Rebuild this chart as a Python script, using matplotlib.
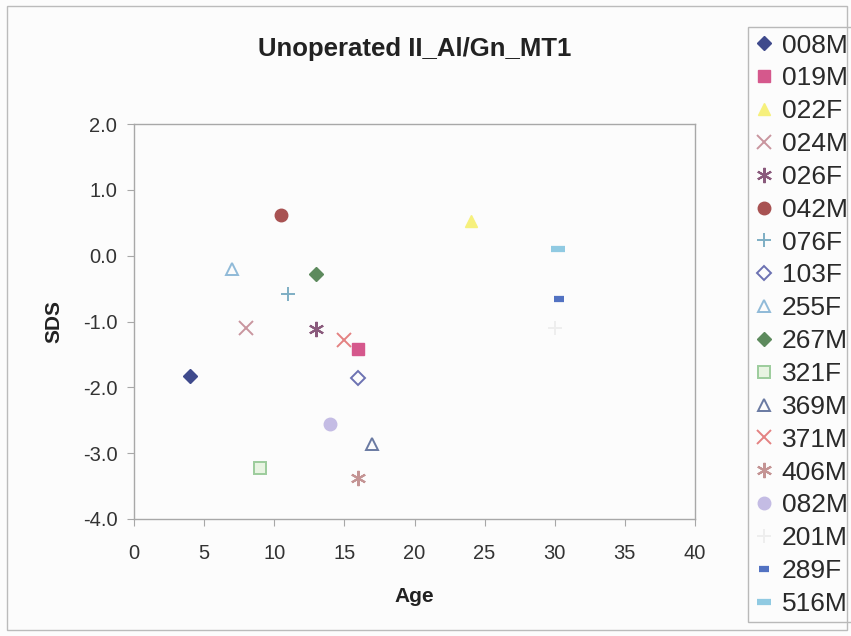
import matplotlib
matplotlib.use("Agg")
import matplotlib.pyplot as plt
from matplotlib.patches import Rectangle

plt.rcParams['font.family'] = ['Liberation Sans', 'DejaVu Sans']

# data
names = ['008M', '019M', '022F', '024M', '026F', '042M', '076F', '103F', '255F',
         '267M', '321F', '369M', '371M', '406M', '082M', '201M', '289F', '516M']
age = [4, 16, 24, 8, 13, 10.5, 11, 16, 7, 13, 9, 17, 15, 16, 14, 30, 30.3, 30.2]
sds = [-1.83, -1.42, 0.52, -1.1, -1.12, 0.62, -0.58, -1.86, -0.2,
       -0.28, -3.22, -2.86, -1.28, -3.38, -2.56, -1.1, -0.66, 0.1]

# marker styles (marker, colour, filled)
styles = [
    ('D', '#3f4a8c', True),
    ('s', '#d5588c', True),
    ('^', '#f6f07c', True),
    ('x', '#c9959e', True),
    ('star', '#8a5a7c', True),
    ('o', '#a85252', True),
    ('+', '#7eaec4', True),
    ('D', '#6c72b2', False),
    ('^', '#90bad8', False),
    ('D', '#5d8a5d', True),
    ('s', '#9ccc9c', False),
    ('^', '#6a7aa2', False),
    ('x', '#e48282', True),
    ('star', '#c49494', True),
    ('o', '#c4bce4', True),
    ('+', '#eeeeee', True),
    ('_', '#5272c2', True),
    ('_', '#90cae2', True),
]

fig = plt.figure(figsize=(8.51, 6.36), dpi=100, facecolor='#fcfcfc')
ax = fig.add_axes([134 / 851, 1 - 519 / 636, 561 / 851, 395 / 636])
ax.set_facecolor('#fcfcfc')

handles = []
for i in range(len(names)):
    mk, col, filled = styles[i]
    kw = dict(linestyle='none', color=col, markersize=9)
    if mk == 'star':
        mk = (6, 2, 0)
        kw.update(mew=1.5, markersize=11)
    elif mk in ('x', '+'):
        kw.update(mew=1.4, markersize=10)
    elif mk == '_':
        kw.update(mew=4.5, markersize=7 if i == 16 else 10)
    elif mk == 'D':
        kw.update(markersize=7)
    if not filled:
        kw.update(markerfacecolor='#fcfcfc' if mk != 's' else '#e8f4e2', mew=1.4)
    h, = ax.plot(age[i], sds[i], marker=mk, **kw)
    handles.append(h)

ax.set_xlim(0, 40)
ax.set_ylim(-4, 2)
ax.set_xticks(range(0, 41, 5))
ax.set_yticks([-4, -3, -2, -1, 0, 1, 2])
ax.set_yticklabels(['%.1f' % v for v in [-4, -3, -2, -1, 0, 1, 2]])
for s in ax.spines.values():
    s.set_color('#a8a8a8')
    s.set_linewidth(1)
ax.tick_params(direction='out', length=5, color='#a8a8a8', labelsize=14.5,
               labelcolor='#333333')
ax.tick_params(axis='x', pad=13)
ax.tick_params(axis='y', pad=7)

ax.set_title('Unoperated II_Al/Gn_MT1', fontsize=18.5, fontweight='bold',
             color='#222222', pad=49)
ax.set_xlabel('Age', fontsize=15, fontweight='bold', color='#222222', labelpad=17)
ax.set_ylabel('SDS', fontsize=15, fontweight='bold', color='#222222', labelpad=14)

# legend box runs off the right edge of the figure, as in the original
leg = fig.legend(handles, names, loc='upper left', mode='expand',
                 bbox_to_anchor=(748 / 851, 1 - 27 / 636, 0.2, 0),
                 fontsize=19, frameon=True, fancybox=False, edgecolor='#a8a8a8',
                 facecolor='#fcfcfc', handlelength=0.68, handletextpad=0.34,
                 labelspacing=0.335, borderpad=0.25, borderaxespad=0)
leg.get_frame().set_linewidth(1)
for t in leg.get_texts():
    t.set_color('#2a2a2a')

fig.patches.append(Rectangle((7 / 851, 6 / 636), 840 / 851, 624 / 636,
                             transform=fig.transFigure, fill=False,
                             edgecolor='#bbbbbb', linewidth=1, zorder=10))

fig.savefig('out.png', dpi=100, facecolor=fig.get_facecolor())
